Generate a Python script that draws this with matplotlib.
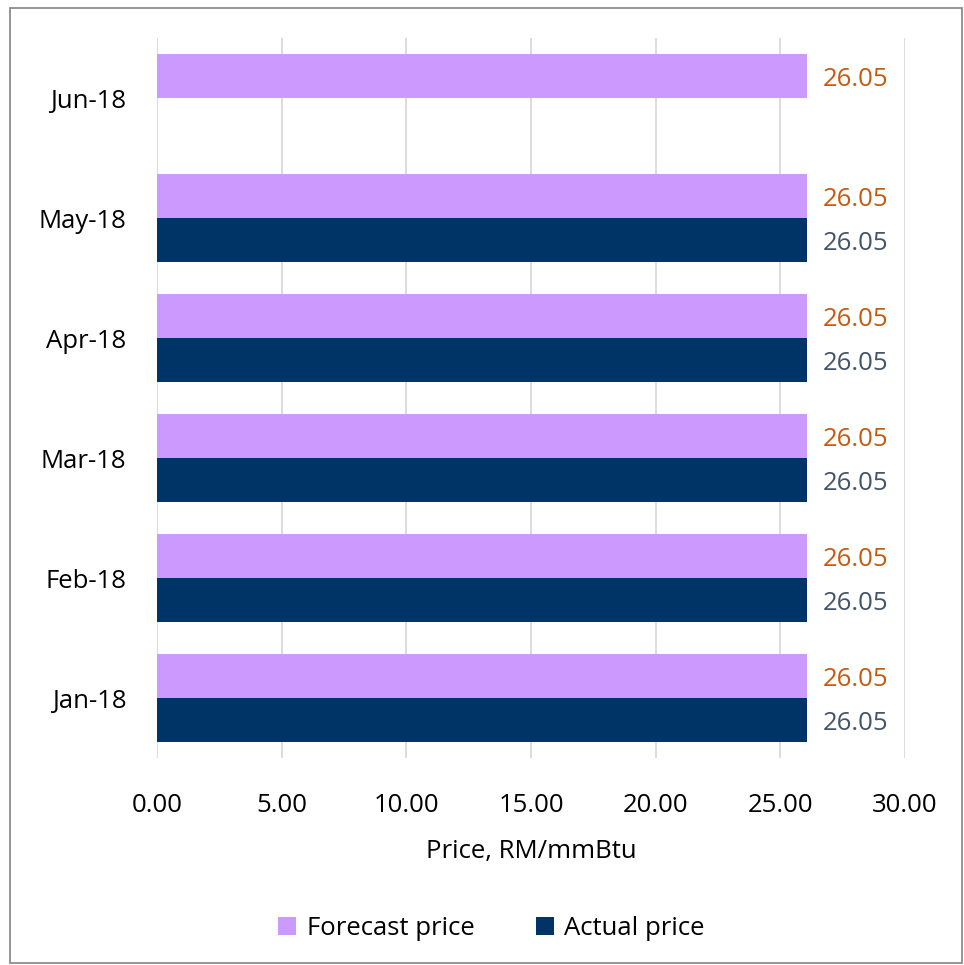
import numpy as np
import matplotlib.pyplot as plt
from matplotlib.patches import Rectangle

plt.rcParams['font.family'] = ['Open Sans', 'DejaVu Sans']

months = ['Jan-18', 'Feb-18', 'Mar-18', 'Apr-18', 'May-18', 'Jun-18']
forecast = [26.05, 26.05, 26.05, 26.05, 26.05, 26.05]
actual = [26.05, 26.05, 26.05, 26.05, 26.05, None]

c_fore = '#CC99FF'
c_act = '#003366'
fs = 18.5

fig = plt.figure(figsize=(9.64, 9.65), dpi=100)
ax = fig.add_axes([0.1629, 0.2145, 0.7759, 0.7461])

y = np.arange(len(months))
h = 0.365

ax.barh(y + h / 2, forecast, height=h, color=c_fore, label='Forecast price', zorder=3)
act_vals = [v if v is not None else 0 for v in actual]
ax.barh(y - h / 2, act_vals, height=h, color=c_act, label='Actual price', zorder=3)

# value labels, nudged a bit down to sit like the original
for i in range(len(months)):
    ax.text(forecast[i] + 0.65, y[i] + h / 2 - 0.03, '%.2f' % forecast[i], color='#C55A11',
            fontsize=fs, va='center', ha='left')
    if actual[i] is not None:
        ax.text(actual[i] + 0.65, y[i] - h / 2 - 0.03, '%.2f' % actual[i], color='#44546A',
                fontsize=fs, va='center', ha='left')

ax.set_xlim(0, 30)
ax.set_ylim(-0.5, len(months) - 0.5)
ax.set_xticks(np.arange(0, 30.1, 5))
ax.set_xticklabels(['%.2f' % v for v in np.arange(0, 30.1, 5)])
ax.set_yticks(y)
ax.set_yticklabels(months)
ax.tick_params(axis='both', length=0, labelsize=fs)
ax.tick_params(axis='x', pad=25)
ax.tick_params(axis='y', pad=22)
ax.grid(axis='x', color='#D9D9D9', linewidth=1.3, zorder=0)
for s in ax.spines.values():
    s.set_visible(False)

ax.set_xlabel('Price, RM/mmBtu', fontsize=fs, labelpad=15)

ax.legend(loc='center', bbox_to_anchor=(0.51, 0.038), bbox_transform=fig.transFigure,
          ncol=2, frameon=False, fontsize=fs, handlelength=0.7, handleheight=0.7,
          handletextpad=0.4, columnspacing=2.4)

fig.patches.append(Rectangle((0.0105, 0.002), 0.987, 0.990, transform=fig.transFigure,
                             fill=False, edgecolor='#8C8C8C', linewidth=1.3))

fig.savefig('out.png', dpi=100)
